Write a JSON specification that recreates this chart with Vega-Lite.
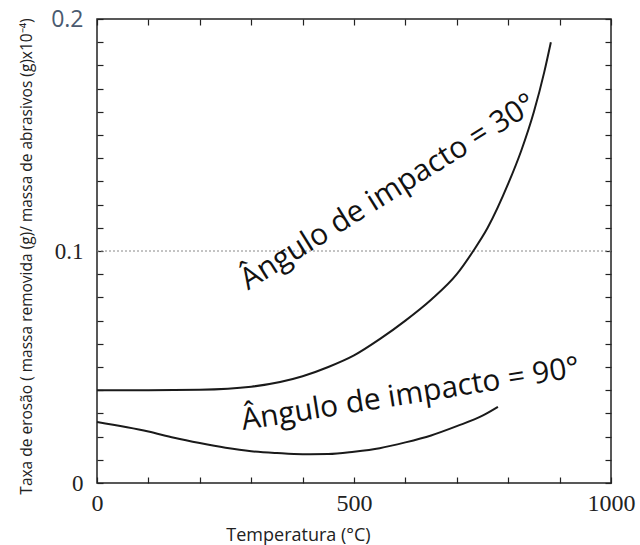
{
  "$schema": "https://vega.github.io/schema/vega-lite/v6.json",
  "autosize": {"type": "none"},
  "padding": {"left": 97, "top": 19, "right": 29, "bottom": 62},
  "width": 514,
  "height": 464,
  "background": "white",
  "config": {
    "view": {"stroke": "#222", "strokeWidth": 1.5},
    "axis": {
      "grid": false,
      "domain": false,
      "ticks": true,
      "offset": -6,
      "tickColor": "#222",
      "tickSize": 6,
      "tickWidth": 1.2,
      "tickOpacity": 1
    }
  },
  "datasets": {
    "curves": [
      {"temp": 0, "rate": 0.040, "series": "30"},
      {"temp": 100, "rate": 0.040, "series": "30"},
      {"temp": 200, "rate": 0.0402, "series": "30"},
      {"temp": 300, "rate": 0.0415, "series": "30"},
      {"temp": 400, "rate": 0.046, "series": "30"},
      {"temp": 450, "rate": 0.050, "series": "30"},
      {"temp": 500, "rate": 0.055, "series": "30"},
      {"temp": 550, "rate": 0.062, "series": "30"},
      {"temp": 600, "rate": 0.070, "series": "30"},
      {"temp": 650, "rate": 0.079, "series": "30"},
      {"temp": 700, "rate": 0.090, "series": "30"},
      {"temp": 732, "rate": 0.100, "series": "30"},
      {"temp": 760, "rate": 0.110, "series": "30"},
      {"temp": 800, "rate": 0.129, "series": "30"},
      {"temp": 825, "rate": 0.143, "series": "30"},
      {"temp": 850, "rate": 0.160, "series": "30"},
      {"temp": 870, "rate": 0.177, "series": "30"},
      {"temp": 883, "rate": 0.190, "series": "30"},
      {"temp": 0, "rate": 0.0263, "series": "90"},
      {"temp": 100, "rate": 0.0222, "series": "90"},
      {"temp": 150, "rate": 0.0195, "series": "90"},
      {"temp": 200, "rate": 0.0172, "series": "90"},
      {"temp": 250, "rate": 0.0152, "series": "90"},
      {"temp": 300, "rate": 0.0137, "series": "90"},
      {"temp": 350, "rate": 0.0129, "series": "90"},
      {"temp": 400, "rate": 0.0124, "series": "90"},
      {"temp": 450, "rate": 0.0125, "series": "90"},
      {"temp": 500, "rate": 0.0135, "series": "90"},
      {"temp": 550, "rate": 0.015, "series": "90"},
      {"temp": 600, "rate": 0.0175, "series": "90"},
      {"temp": 650, "rate": 0.0205, "series": "90"},
      {"temp": 700, "rate": 0.0245, "series": "90"},
      {"temp": 750, "rate": 0.029, "series": "90"},
      {"temp": 780, "rate": 0.0328, "series": "90"}
    ],
    "labels": [
      {"temp": 294, "rate": 0.083, "text": "Ângulo de impacto = 30°", "angle": 328},
      {"temp": 284, "rate": 0.0228, "text": "Ângulo de impacto = 90°", "angle": 351}
    ]
  },
  "layer": [
    {
      "data": {"values": [{"rate": 0.1}]},
      "mark": {"type": "rule", "color": "#888", "strokeDash": [2, 2], "strokeWidth": 1},
      "encoding": {
        "y": {"field": "rate", "type": "quantitative", "scale": {"domain": [0, 0.2], "nice": false}, "axis": null}
      }
    },
    {
      "data": {"name": "curves"},
      "mark": {"type": "line", "color": "#1a1a1a", "strokeWidth": 2, "interpolate": "monotone"},
      "encoding": {
        "x": {
          "field": "temp", "type": "quantitative",
          "scale": {"domain": [0, 1000], "nice": false},
          "axis": {
            "orient": "bottom",
            "values": [0, 100, 200, 300, 400, 500, 600, 700, 800, 900, 1000],
            "format": "d",
            "labelExpr": "datum.value % 500 == 0 ? datum.label : ''",
            "labelFont": "Liberation Serif",
            "labelFontSize": 24,
            "labelColor": "#222",
            "labelPadding": 8,
            "labelFlush": false,
            "labelOverlap": false,
            "title": "Temperatura (°C)",
            "titleFont": "Open Sans",
            "titleFontSize": 18,
            "titleFontWeight": "normal",
            "titleColor": "#222",
            "titleX": 201,
            "titleY": 58,
            "titleAlign": "center",
            "titleBaseline": "middle"
          }
        },
        "y": {
          "field": "rate", "type": "quantitative",
          "scale": {"domain": [0, 0.2], "nice": false},
          "axis": {
            "orient": "left",
            "values": [0, 0.01, 0.02, 0.03, 0.04, 0.05, 0.06, 0.07, 0.08, 0.09, 0.1, 0.11, 0.12, 0.13, 0.14, 0.15, 0.16, 0.17, 0.18, 0.19, 0.2],
            "labelExpr": "datum.value == 0 ? '0' : (abs(datum.value - 0.1) < 0.000001 ? '0.1' : (abs(datum.value - 0.2) < 0.000001 ? '0.2' : ''))",
            "labelFont": {"condition": {"test": "abs(datum.value - 0.2) < 0.000001", "value": "Open Sans"}, "value": "Liberation Serif"},
            "labelColor": {"condition": {"test": "abs(datum.value - 0.2) < 0.000001", "value": "#4a5a70"}, "value": "#222"},
            "labelFontSize": 23,
            "labelPadding": 14,
            "labelFlush": false,
            "labelOverlap": false,
            "title": "Taxa de erosão ( massa removida (g)/ massa de abrasivos (g)x10⁻⁴)",
            "titleFont": "Open Sans",
            "titleFontSize": 15.5,
            "titleFontWeight": "normal",
            "titleColor": "#222",
            "titleAngle": -90,
            "titleX": -77,
            "titleY": 237,
            "titleAlign": "center",
            "titleBaseline": "middle"
          }
        },
        "detail": {"field": "series", "type": "nominal"}
      }
    },
    {
      "data": {"name": "labels"},
      "mark": {"type": "text", "font": "Open Sans", "fontSize": 30, "align": "left", "baseline": "alphabetic", "color": "#111"},
      "encoding": {
        "x": {
          "field": "temp", "type": "quantitative",
          "scale": {"domain": [0, 1000], "nice": false},
          "axis": {
            "orient": "top",
            "values": [0, 100, 200, 300, 400, 500, 600, 700, 800, 900, 1000],
            "labels": false,
            "title": null
          }
        },
        "y": {
          "field": "rate", "type": "quantitative",
          "scale": {"domain": [0, 0.2], "nice": false},
          "axis": {
            "orient": "right",
            "values": [0, 0.01, 0.02, 0.03, 0.04, 0.05, 0.06, 0.07, 0.08, 0.09, 0.1, 0.11, 0.12, 0.13, 0.14, 0.15, 0.16, 0.17, 0.18, 0.19, 0.2],
            "labels": false,
            "title": null
          }
        },
        "text": {"field": "text", "type": "nominal"},
        "angle": {"field": "angle", "type": "quantitative", "scale": null}
      }
    }
  ],
  "resolve": {"axis": {"x": "independent", "y": "independent"}}
}
